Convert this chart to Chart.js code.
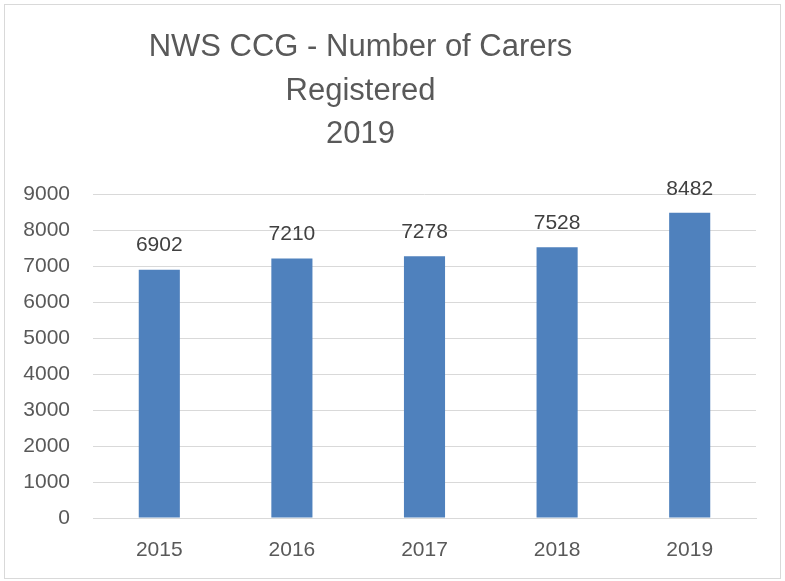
<!DOCTYPE html>
<html>
<head>
<meta charset="utf-8">
<script src="https://cdn.jsdelivr.net/npm/chart.js@4"></script>
<style>
  body { margin: 0; background: #fff; }
  #frame { position: absolute; left: 4px; top: 4px; width: 775px; height: 573px; border: 1px solid #d9d9d9; }
  #wrap { position: absolute; left: 0; top: 0; width: 785px; height: 581px; }
</style>
</head>
<body>
<div id="frame"></div>
<div id="wrap"><canvas id="chart"></canvas></div>
<script>
// carers registered per year
const years = ["2015", "2016", "2017", "2018", "2019"];
const carers = [6902, 7210, 7278, 7528, 8482];
const titleLines = ["NWS CCG - Number of Carers", "Registered", "2019"];

const FONT = "'Liberation Sans', Arial, sans-serif";

// value labels above each bar
const valueLabels = {
  id: "valueLabels",
  afterDatasetsDraw(chart) {
    const ctx = chart.ctx;
    const meta = chart.getDatasetMeta(0);
    ctx.save();
    ctx.font = "21px " + FONT;
    ctx.fillStyle = "#404040";
    ctx.textAlign = "center";
    ctx.textBaseline = "middle";
    meta.data.forEach((bar, i) => {
      ctx.fillText(String(carers[i]), bar.x, bar.y - 24);
    });
    ctx.restore();
  }
};

// excel puts the title a bit left of centre
const shiftTitle = {
  id: "shiftTitle",
  afterLayout(chart) {
    if (chart.titleBlock) chart.titleBlock.right -= 58;
  }
};

new Chart(document.getElementById("chart"), {
  type: "bar",
  data: {
    labels: years,
    datasets: [{
      data: carers,
      backgroundColor: "#4f81bd",
      barPercentage: 0.31,
      categoryPercentage: 1
    }]
  },
  options: {
    responsive: true,
    maintainAspectRatio: false,
    animation: false,
    layout: { padding: { left: 23, right: 29, top: 6, bottom: 0 } },
    plugins: {
      legend: { display: false },
      tooltip: { enabled: false },
      title: {
        display: true,
        text: titleLines,
        color: "#595959",
        font: { family: FONT, size: 31, weight: "normal", lineHeight: 1.4 },
        padding: { top: 20, bottom: 38 }
      }
    },
    scales: {
      x: {
        grid: { display: false, drawTicks: false },
        border: { display: true, color: "#d9d9d9", width: 1 },
        ticks: { color: "#595959", font: { family: FONT, size: 21 }, padding: 20 },
        afterFit(scale) { scale.height = 63; }
      },
      y: {
        min: 0,
        max: 9000,
        grid: { color: "#d9d9d9", drawTicks: false },
        border: { display: false },
        ticks: {
          stepSize: 1000,
          color: "#595959",
          font: { family: FONT, size: 21 },
          padding: 23,
          callback: v => String(v)
        },
        afterFit(scale) { scale.width = 70; }
      }
    }
  },
  plugins: [valueLabels, shiftTitle]
});
</script>
</body>
</html>
